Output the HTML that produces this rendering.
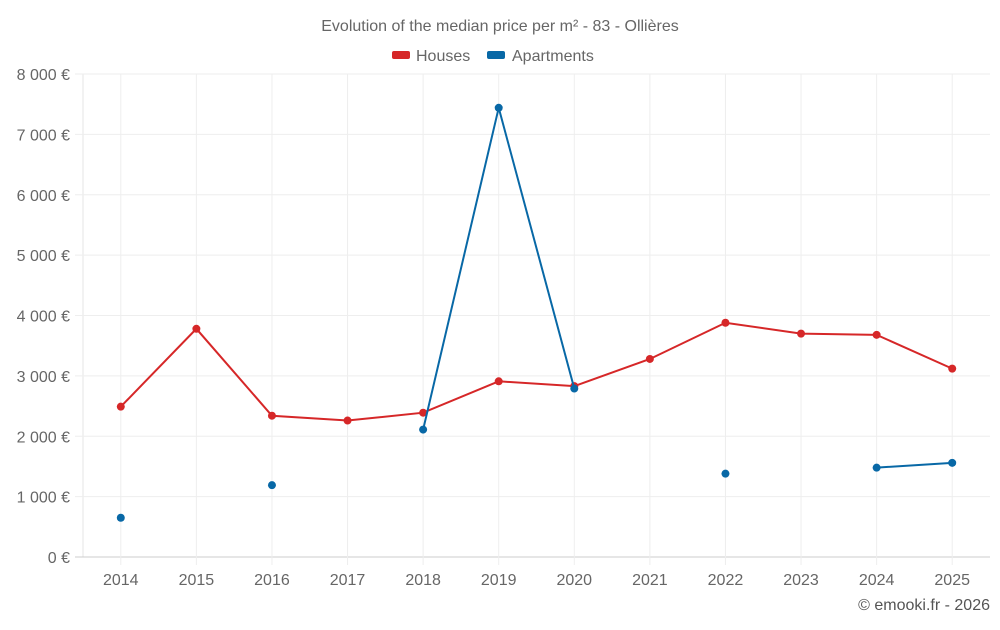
<!DOCTYPE html>
<html><head><meta charset="utf-8"><style>
body{margin:0;background:#fff;font-family:"Liberation Sans",Roboto,sans-serif;}
svg text{font-family:"Liberation Sans",sans-serif;}
</style></head><body>
<svg id="chart" width="1000" height="625" xmlns="http://www.w3.org/2000/svg">
<text x="500" y="31" text-anchor="middle" font-size="16" fill="#666">Evolution of the median price per m² - 83 - Ollières</text>
<g><rect x="392" y="51" width="18" height="8" rx="2" fill="#d62728"/><text x="416" y="61" font-size="16" fill="#666">Houses</text></g>
<g><rect x="487" y="51" width="18" height="8" rx="2" fill="#0868a6"/><text x="512" y="61" font-size="16" fill="#666">Apartments</text></g>
<g id="grid"></g><g id="axes"></g><g id="series"></g>
<text x="990" y="610" text-anchor="end" font-size="16" fill="#555">© emooki.fr - 2026</text>
</svg>
<script>
const years=[2014,2015,2016,2017,2018,2019,2020,2021,2022,2023,2024,2025];
const houses=[2490,3780,2340,2260,2390,2910,2830,3280,3880,3700,3680,3120];
const apartments=[650,null,1190,null,2110,7440,2790,null,1380,null,1480,1560];
const yTicks=[0,1000,2000,3000,4000,5000,6000,7000,8000];
const tickLabels=["0 €","1 000 €","2 000 €","3 000 €","4 000 €","5 000 €","6 000 €","7 000 €","8 000 €"];
const L=83,R=990,T=74,B=557,NS="http://www.w3.org/2000/svg";
const band=(R-L)/years.length;
const x=i=>L+band*(i+0.5);
const y=v=>B-(v/8000)*(B-T);
function mk(tag,attrs,parent){const e=document.createElementNS(NS,tag);for(const k in attrs)e.setAttribute(k,attrs[k]);document.getElementById(parent).appendChild(e);return e;}
const lb=mk('line',{x1:L,x2:L,y1:T,y2:B,stroke:'#e6e6e6'},'grid');


yTicks.forEach((v,i)=>{
 const g=mk('line',{x1:L-8,x2:R,y1:y(v),y2:y(v),stroke:i===0?'#ccc':'#eee'},'grid');
 
 
 const t=mk('text',{x:70,y:y(v)+6,'text-anchor':'end','font-size':16,fill:'#666'},'axes');t.textContent=tickLabels[i];
 
 
});
years.forEach((yr,i)=>{
 const g=mk('line',{x1:x(i),x2:x(i),y1:T,y2:B+8,stroke:'#eee'},'grid');
 
 
 const t=mk('text',{x:x(i),y:585,'text-anchor':'middle','font-size':16,fill:'#666'},'axes');t.textContent=yr;
 
 });
function series(vals,color,name){
 let d='',pen=false;
 vals.forEach((v,i)=>{if(v==null){pen=false;return;}d+=(pen?'L':'M')+x(i)+' '+y(v)+' ';pen=true;});
 const p=mk('path',{d:d,fill:'none',stroke:color,'stroke-width':2},'series');
 
 
 vals.forEach((v,i)=>{if(v==null)return;const c=mk('circle',{cx:x(i),cy:y(v),r:4,fill:color},'series');
  
  });
}
series(houses,'#d62728','houses');
series(apartments,'#0868a6','apartments');
</script>
</body></html>
